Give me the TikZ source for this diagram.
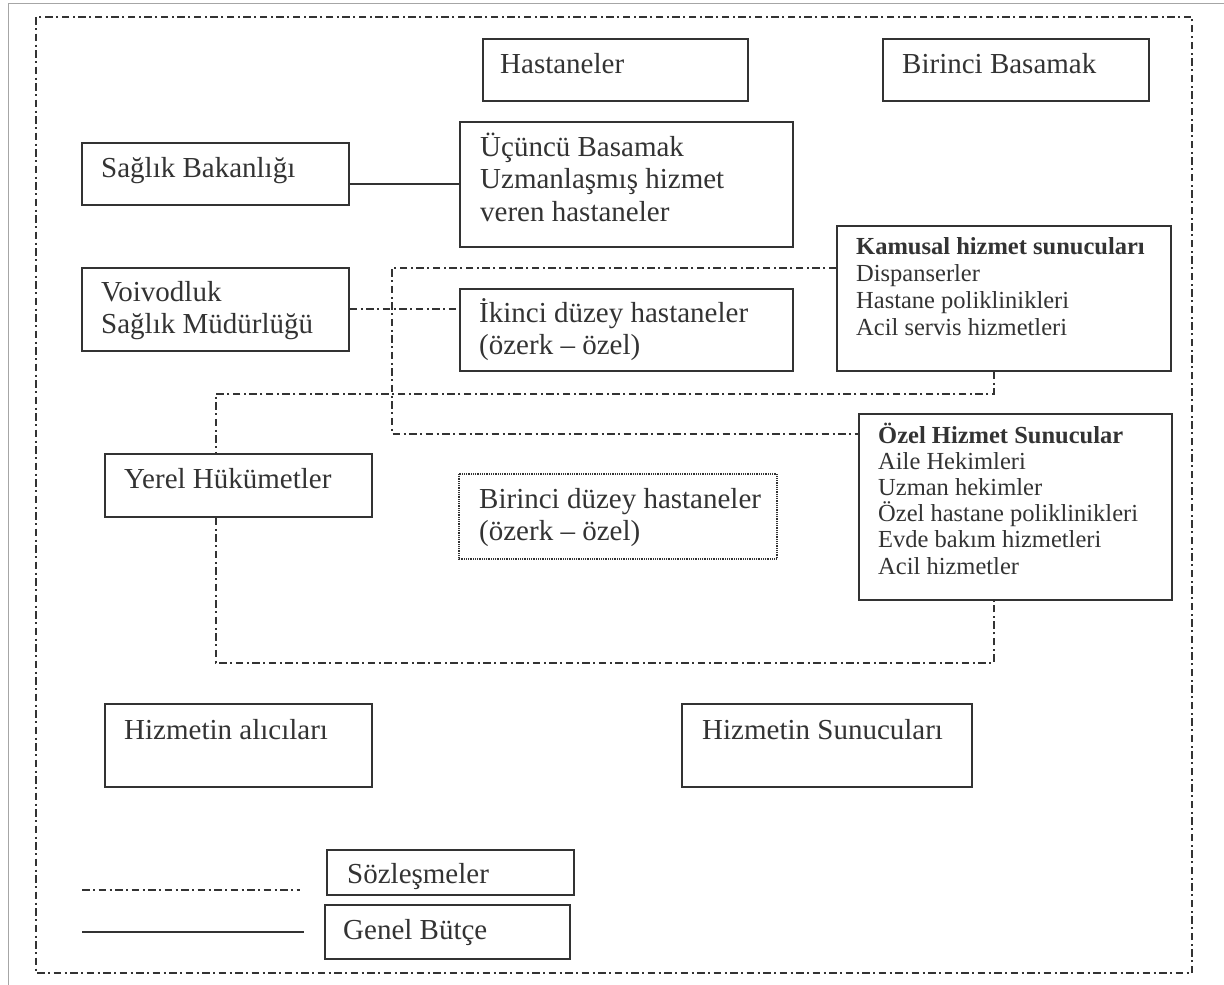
\documentclass[tikz,border=0pt]{standalone}
\usepackage{fontspec}
\setmainfont{Liberation Serif}
\usetikzlibrary{calc}
\definecolor{ink}{HTML}{333333}
\newcommand\mlin[1]{\vtop{\halign{##\hfil\cr#1\crcr}}}
\begin{document}
\begin{tikzpicture}[x=1pt,y=-1pt,
  box/.style={draw=ink, line width=1.8pt, inner sep=0pt, anchor=north west},
  txt/.style={anchor=base west, inner sep=0pt, text=ink, font=\fontsize{29}{32.5}\selectfont},
  smalltxt/.style={txt, font=\fontsize{24.5}{27}\selectfont},
  contract/.style={draw=ink, line width=2pt, dash pattern=on 7.5pt off 3.5pt on 2pt off 3.5pt},
  budget/.style={draw=ink, line width=1.6pt}]
\fill[white] (0,0) rectangle (1224,985);
\useasboundingbox (0,0) rectangle (1224,985);
% outer frames
\draw[gray!70, line width=1pt] (8,995) -- (8,3) -- (1235,3);
\draw[contract] (36,17) rectangle (1192,973);
% boxes
\node[box, minimum width=265pt, minimum height=62pt] (hast) at (482,38) {};
\node[box, minimum width=266pt, minimum height=62pt] (bir) at (882,38) {};
\node[box, minimum width=267pt, minimum height=62pt] (sag) at (81,142) {};
\node[box, minimum width=333pt, minimum height=125pt] (ucu) at (459,121) {};
\node[box, minimum width=267pt, minimum height=83pt] (voi) at (81,267) {};
\node[box, minimum width=333pt, minimum height=82pt] (iki) at (459,288) {};
\node[box, minimum width=334pt, minimum height=145pt] (kam) at (836,225) {};
\node[box, minimum width=313pt, minimum height=186pt] (oze) at (858,413) {};
\node[box, minimum width=267pt, minimum height=63pt] (yer) at (104,453) {};
\node[box, draw=none, minimum width=316pt, minimum height=83pt] (bdz) at (459,474) {};
\draw[ink, line width=1.6pt, dash pattern=on 1pt off 0.8pt] (bdz.north west) rectangle (bdz.south east);
\node[box, minimum width=267pt, minimum height=83pt] (alc) at (104,703) {};
\node[box, minimum width=290pt, minimum height=83pt] (sun) at (681,703) {};
\node[box, minimum width=247pt, minimum height=45pt] (soz) at (326,849) {};
\node[box, minimum width=245pt, minimum height=54pt] (gen) at (324,904) {};
% texts
\node[txt] (t-hast) at (500,73) {Hastaneler};
\node[txt] (t-bir) at (902,73) {Birinci Basamak};
\node[txt] (t-sag) at (101,177) {Sağlık Bakanlığı};
\node[txt] (t-ucu) at (480,156) {\mlin{Üçüncü Basamak\cr Uzmanlaşmış hizmet\cr veren hastaneler}};
\node[txt] (t-voi) at (101,301) {\mlin{Voivodluk\cr Sağlık Müdürlüğü}};
\node[txt] (t-iki) at (479,322) {\mlin{İkinci düzey hastaneler\cr (özerk – özel)}};
\node[smalltxt] (t-kam) at (856,254) {\mlin{\textbf{Kamusal hizmet sunucuları}\cr Dispanserler\cr Hastane poliklinikleri\cr Acil servis hizmetleri}};
\node[smalltxt, font=\fontsize{24.5}{26.2}\selectfont] (t-oze) at (878,443) {\mlin{\textbf{Özel Hizmet Sunucular}\cr Aile Hekimleri\cr Uzman hekimler\cr Özel hastane poliklinikleri\cr Evde bakım hizmetleri\cr Acil hizmetler}};
\node[txt] (t-yer) at (124,488) {Yerel Hükümetler};
\node[txt] (t-bdz) at (479,508) {\mlin{Birinci düzey hastaneler\cr (özerk – özel)}};
\node[txt] (t-alc) at (124,739) {Hizmetin alıcıları};
\node[txt] (t-sun) at (702,739) {Hizmetin Sunucuları};
\node[txt] (t-soz) at (347,883) {Sözleşmeler};
\node[txt] (t-gen) at (343,939) {Genel Bütçe};
% connectors
\coordinate (se) at ([yshift=-10pt]sag.east);
\draw[budget] (se) -- (se -| ucu.west);
\draw[contract] (voi.east) -- (voi.east -| iki.west);
\coordinate (kw) at ([yshift=30.5pt]kam.west);
\coordinate (ow) at ([yshift=73pt]oze.west);
\draw[contract] (kw) -| (392,350) |- (ow);
\coordinate (ks) at ([xshift=-10pt]kam.south);
\coordinate (yn) at ([xshift=-22.5pt]yer.north);
\draw[contract] (ks) -- ++(0,22) -| (yn);
\coordinate (ys) at ([xshift=-22.5pt]yer.south);
\coordinate (os) at ([xshift=-21.5pt]oze.south);
\draw[contract] (ys) -- ++(0,145) -| (os);
% legend
\coordinate (la1) at (82,890);
\coordinate (la2) at (300,890);
\coordinate (lb1) at (82,932);
\coordinate (lb2) at (304,932);
\draw[contract] (la1) -- (la2);
\draw[budget] (lb1) -- (lb2);
\end{tikzpicture}
\end{document}
